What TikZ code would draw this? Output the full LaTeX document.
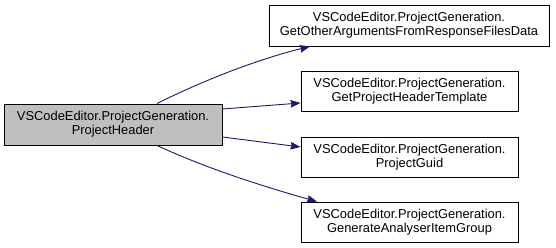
\documentclass[tikz,border=0pt]{standalone}
\usepackage{fontspec}
\setmainfont{Liberation Sans}
\usepackage{xcolor, tikz}
\usetikzlibrary{arrows.meta,positioning}

\definecolor{edgeblue}{HTML}{191970}
\definecolor{nodegray}{HTML}{BFBFBF}

\tikzset{
	fnbox/.style={draw=black, line width=0.9pt, fill=white, align=center, inner sep=2pt,
		minimum height=40pt, font=\fontsize{12.9}{14.3}\selectfont},
	calls/.style={draw=edgeblue, line width=0.9pt, -{Stealth[length=10pt,width=7.5pt,inset=1pt]}}
}

\begin{document}
\begin{tikzpicture}[x=1pt, y=-1pt]
	\useasboundingbox (0,0) rectangle (556,248);

	%caller
	\node[fnbox, fill=nodegray, minimum width=218pt, minimum height=41pt] (phdr) at (113,124.5)
		{VSCodeEditor.ProjectGeneration.\\ProjectHeader};

	%callees
	\node[fnbox, minimum width=280pt, minimum height=41pt] (otherargs) at (409,25.5)
		{VSCodeEditor.ProjectGeneration.\\GetOtherArgumentsFromResponseFilesData};
	\node[fnbox, minimum width=217pt] (hdrtmpl) at (409.5,91)
		{VSCodeEditor.ProjectGeneration.\\GetProjectHeaderTemplate};
	\node[fnbox, minimum width=217pt] (guid) at (409.5,157)
		{VSCodeEditor.ProjectGeneration.\\ProjectGuid};
	\node[fnbox, minimum width=217pt] (analyser) at (409.5,222)
		{VSCodeEditor.ProjectGeneration.\\GenerateAnalyserItemGroup};

	%call edges
	\draw[calls] ([xshift=44pt]phdr.north) .. controls (200,82) and (255,60) .. ([xshift=-99pt]otherargs.south);
	\draw[calls] ([yshift=15.5pt]phdr.east) -- ([yshift=-12pt]hdrtmpl.west);
	\draw[calls] ([yshift=-12.5pt]phdr.east) -- ([yshift=10pt]guid.west);
	\draw[calls] ([xshift=44pt]phdr.south) .. controls (205,168) and (265,187) .. ([xshift=-92.5pt]analyser.north);
\end{tikzpicture}
\end{document}
